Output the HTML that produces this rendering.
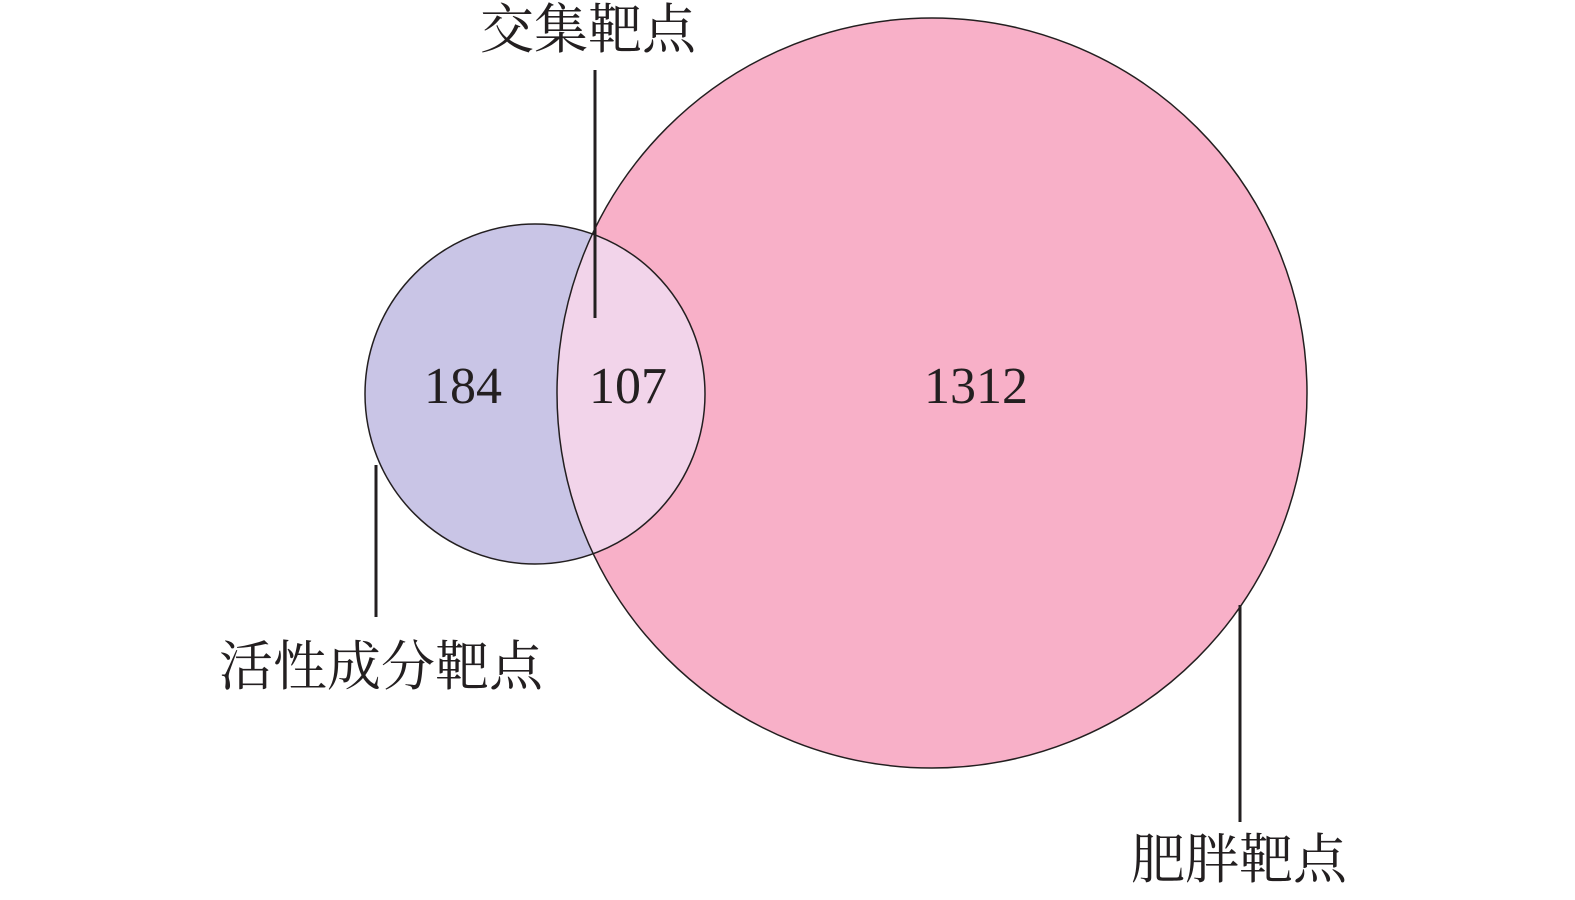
<!DOCTYPE html>
<html><head><meta charset="utf-8"><style>
html,body{margin:0;padding:0;background:#fff;width:1575px;height:900px;overflow:hidden}
text{font-family:"Liberation Serif","Noto Serif CJK SC",serif;fill:#231f20}
</style></head><body>
<svg width="1575" height="900" viewBox="0 0 1575 900" xmlns="http://www.w3.org/2000/svg">
<defs><clipPath id="s"><circle cx="535" cy="394" r="170"/></clipPath></defs>
<circle cx="535" cy="394" r="170" fill="#c9c5e6"/>
<circle cx="932" cy="393" r="375" fill="#f8b0c8"/>
<circle cx="932" cy="393" r="375" fill="#f2d4ea" clip-path="url(#s)"/>
<circle cx="535" cy="394" r="170" fill="none" stroke="#231f20" stroke-width="1.5"/>
<circle cx="932" cy="393" r="375" fill="none" stroke="#231f20" stroke-width="1.5"/>
<text x="463" y="403" font-size="52" text-anchor="middle">184</text>
<text x="628" y="403" font-size="52" text-anchor="middle">107</text>
<text x="976" y="403" font-size="52" text-anchor="middle">1312</text>
<line x1="595" y1="70" x2="595" y2="318" stroke="#231f20" stroke-width="3"/>
<line x1="376" y1="465" x2="376" y2="617" stroke="#231f20" stroke-width="3"/>
<line x1="1240" y1="605" x2="1240" y2="822" stroke="#231f20" stroke-width="3"/>
<text x="588" y="48" font-size="54" text-anchor="middle">交集靶点</text>
<text x="381" y="685" font-size="54" text-anchor="middle">活性成分靶点</text>
<text x="1239" y="878" font-size="54" text-anchor="middle">肥胖靶点</text>
</svg>
</body></html>
